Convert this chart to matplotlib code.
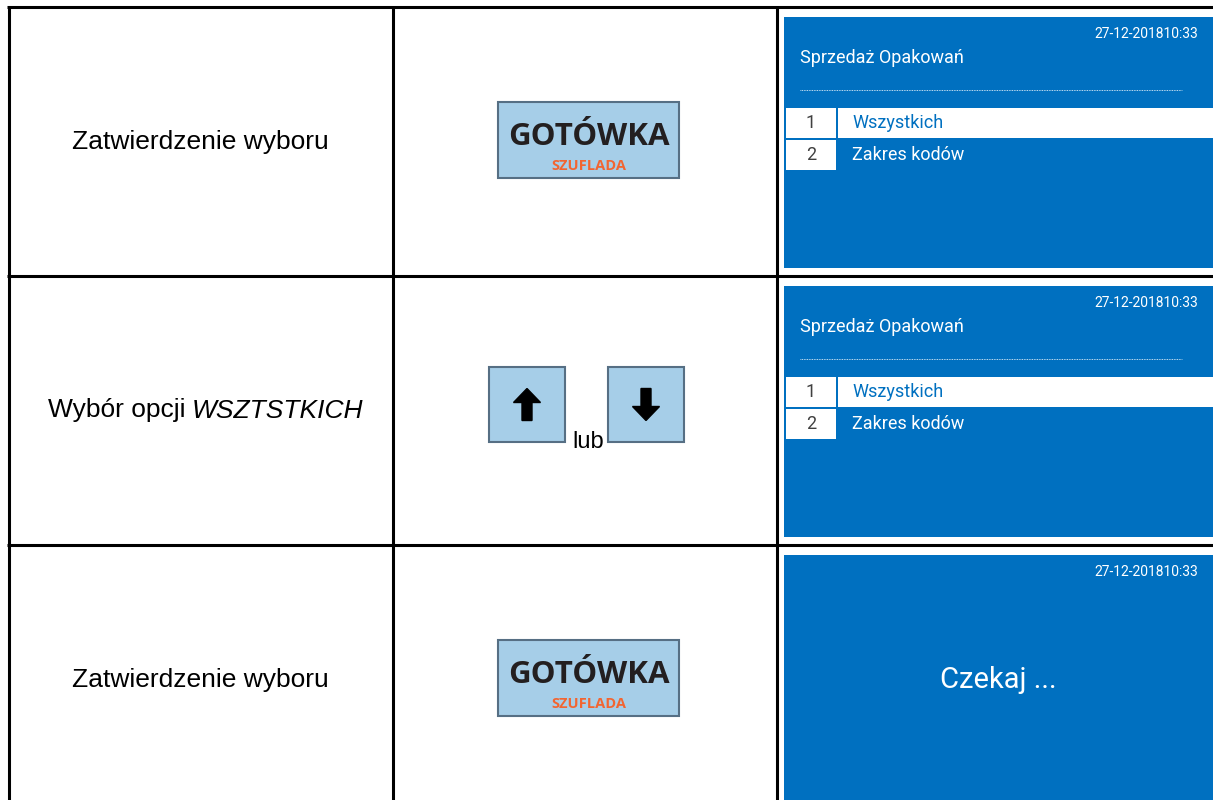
import matplotlib
matplotlib.use('Agg')
import matplotlib.pyplot as plt
from matplotlib.patches import Rectangle, FancyArrow

# table content
row_text = ['Zatwierdzenie wyboru', 'Wybór opcji', 'Zatwierdzenie wyboru']
row_italic = ['', 'WSZTSTKICH', '']
row_key = ['gotowka', 'arrows', 'gotowka']
key_main = 'GOTÓWKA'
key_sub = 'SZUFLADA'
key_or = 'lub'
screen_date = '27-12-201810:33'
screen_title = ['Sprzedaż Opakowań', 'Sprzedaż Opakowań', '']
menu_nums = ['1', '2']
menu_items = ['Wszystkich', 'Zakres kodów']
menu_selected = 0
screen_wait = ['', '', 'Czekaj ...']

screen_font = 'Roboto'

W, H = 1213, 800
fig = plt.figure(figsize=(W / 100, H / 100), dpi=100)
ax = fig.add_axes([0, 0, 1, 1])
ax.set_xlim(0, W)
ax.set_ylim(H, 0)
ax.axis('off')

row_top = [7, 276, 545]
row_h = 269
col_x = [8.5, 392.5, 776.5, 1230]
blue = '#0070c0'
key_fill = '#a6cee8'
key_edge = '#566f84'

for i, top in enumerate(row_top):
    mid = top + row_h / 2
    # left column
    if row_italic[i]:
        ax.text(185, mid, row_text[i], ha='right', va='center', fontsize=19,
                family='Liberation Sans', color='black')
        ax.text(192, mid, row_italic[i], ha='left', va='center', fontsize=19,
                family='Liberation Sans', style='italic', color='black')
    else:
        ax.text((col_x[0] + col_x[1]) / 2, mid, row_text[i], ha='center', va='center',
                fontsize=19, family='Liberation Sans', color='black')

    # middle column: keys
    if row_key[i] == 'gotowka':
        ax.add_patch(Rectangle((498, top + 95), 181, 76, facecolor=key_fill,
                               edgecolor=key_edge, lw=1.5))
        ax.text(588.5, top + 138, key_main, ha='center', va='baseline', fontsize=22.5,
                family='Open Sans', weight='bold', color='#231f20')
        ax.text(588.5, top + 163, key_sub, ha='center', va='baseline', fontsize=10.5,
                family='Open Sans', weight='bold', color='#f26531')
    else:
        for bx, d in [(489, -1), (608, 1)]:
            ax.add_patch(Rectangle((bx, top + 91), 76, 75, facecolor=key_fill,
                                   edgecolor=key_edge, lw=1.5))
            cx = bx + 38
            y0 = top + 128.5 - d * 16
            ax.add_patch(FancyArrow(cx, y0, 0, d * 32, width=10, head_width=27,
                                    head_length=14, length_includes_head=True,
                                    color='black'))
        ax.text(588, top + 172, key_or, ha='center', va='baseline', fontsize=17,
                family='Liberation Sans', color='black')

    # right column: display
    ax.add_patch(Rectangle((784, top + 10), 440, 251, facecolor=blue, edgecolor='none'))
    ax.text(1198, top + 31, screen_date, ha='right', va='baseline', fontsize=10,
            family=screen_font, color='white')
    if screen_title[i]:
        ax.text(800, top + 56, screen_title[i], ha='left', va='baseline', fontsize=13,
                family=screen_font, color='white')
        ax.plot([800, 1182], [top + 83, top + 83], color='white', lw=0.6, ls=(0, (1, 1)))
        for k, (num, item) in enumerate(zip(menu_nums, menu_items)):
            y = top + 101 + k * 32
            ax.add_patch(Rectangle((786, y), 50, 30, facecolor='white', edgecolor='none'))
            if k == menu_selected:
                ax.add_patch(Rectangle((838, y), 390, 30, facecolor='white', edgecolor='none'))
            ax.text(811, y + 15, num, ha='center', va='center', fontsize=13,
                    family=screen_font, color='#404040')
            ax.text(852, y + 15, item, ha='left', va='center', fontsize=13, family=screen_font,
                    color=blue if k == menu_selected else 'white')
    if screen_wait[i]:
        ax.text(998, top + 135, screen_wait[i], ha='center', va='center', fontsize=21,
                family=screen_font, color='white')

# grid lines
for y in row_top:
    ax.plot([col_x[0] - 1.5, col_x[-1]], [y, y], color='black', lw=2.2, solid_capstyle='butt')
for x in col_x[:-1]:
    ax.plot([x, x], [row_top[0], H + 10], color='black', lw=2.2, solid_capstyle='butt')

fig.savefig('out.png', dpi=100)
